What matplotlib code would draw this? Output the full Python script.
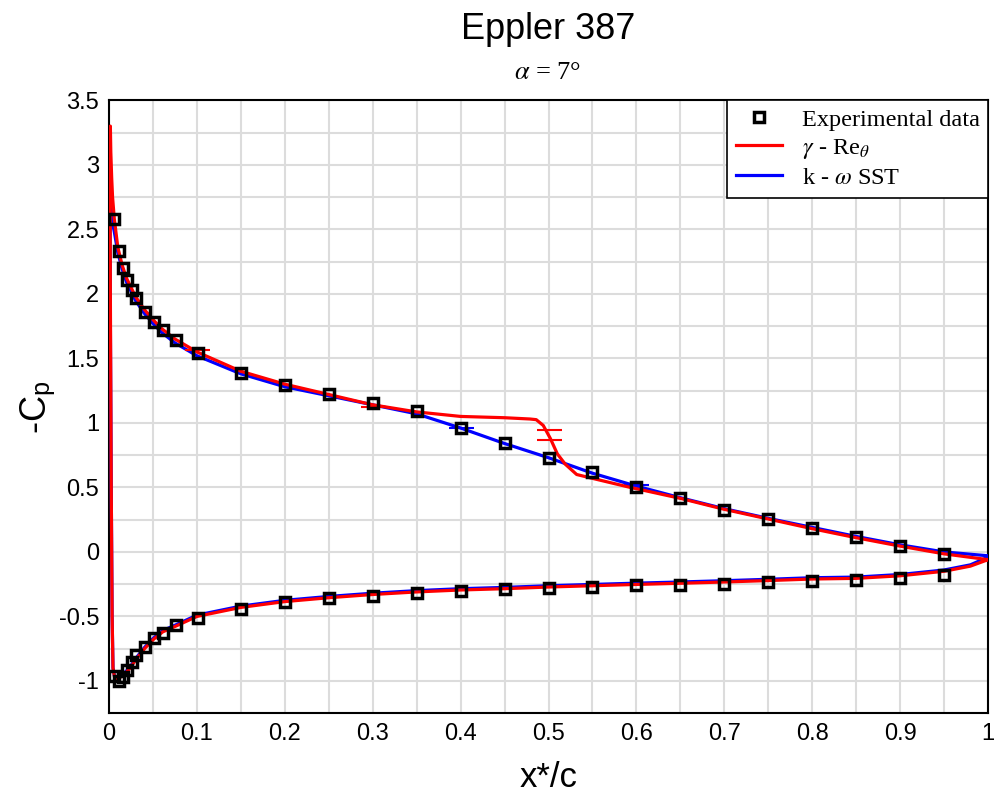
import numpy as np
import matplotlib
matplotlib.use("Agg")
import matplotlib.pyplot as plt

plt.rcParams['font.family'] = ['Liberation Sans', 'DejaVu Sans']
plt.rcParams['mathtext.fontset'] = 'stix'

# ---------------- data ----------------
# experimental points, upper surface
exp_up_x = [0.0057, 0.011, 0.016, 0.020, 0.026, 0.031, 0.041, 0.051, 0.061, 0.076, 0.101,
            0.15, 0.20, 0.25, 0.30, 0.35, 0.40, 0.45, 0.50, 0.55, 0.60, 0.65, 0.70, 0.75,
            0.80, 0.85, 0.90, 0.95]
exp_up_y = [2.58, 2.33, 2.20, 2.11, 2.03, 1.97, 1.86, 1.78, 1.72, 1.64, 1.54,
            1.39, 1.29, 1.22, 1.155, 1.09, 0.96, 0.845, 0.73, 0.62, 0.50, 0.42, 0.325, 0.255,
            0.185, 0.115, 0.047, -0.015]
# experimental points, lower surface
exp_lo_x = [0.0057, 0.011, 0.016, 0.020, 0.026, 0.031, 0.041, 0.051, 0.061, 0.076, 0.101,
            0.15, 0.20, 0.25, 0.30, 0.35, 0.40, 0.45, 0.50, 0.55, 0.60, 0.65, 0.70, 0.75,
            0.80, 0.85, 0.90, 0.95]
exp_lo_y = [-0.96, -1.0, -0.97, -0.915, -0.855, -0.80, -0.735, -0.67, -0.625, -0.57, -0.51,
            -0.44, -0.385, -0.355, -0.34, -0.32, -0.30, -0.29, -0.28, -0.27, -0.26, -0.255,
            -0.245, -0.235, -0.225, -0.22, -0.20, -0.18]

# gamma - Re_theta (red), one loop: lower surface TE -> LE -> upper surface TE
red_x = [1.0, 0.98, 0.95, 0.90, 0.85, 0.80, 0.75, 0.70, 0.65, 0.60, 0.55, 0.50, 0.45, 0.40,
         0.35, 0.30, 0.25, 0.20, 0.15, 0.10, 0.076, 0.061, 0.051, 0.041, 0.031, 0.024, 0.016,
         0.010, 0.0065, 0.0045, 0.0035, 0.0025, 0.0015, 0.0012, 0.0015,
         0.002, 0.003, 0.004, 0.006, 0.010, 0.015, 0.020, 0.030, 0.040, 0.050, 0.060, 0.075,
         0.10, 0.15, 0.20, 0.25, 0.30, 0.35, 0.40, 0.45, 0.479, 0.486, 0.494, 0.502, 0.51,
         0.519, 0.532, 0.55, 0.593, 0.65, 0.70, 0.75, 0.80, 0.85, 0.90, 0.95, 1.0]
red_y = [-0.06, -0.11, -0.15, -0.185, -0.205, -0.21, -0.222, -0.233, -0.243, -0.252, -0.262,
         -0.272, -0.285, -0.295, -0.31, -0.33, -0.355, -0.385, -0.43, -0.50, -0.575, -0.62,
         -0.675, -0.745, -0.83, -0.90, -0.96, -0.98, -0.98, -0.90, -0.50, 0.50, 2.0, 3.0, 3.30,
         3.10, 2.90, 2.75, 2.58, 2.36, 2.22, 2.12, 1.98, 1.88, 1.80, 1.73, 1.65,
         1.55, 1.40, 1.30, 1.22, 1.14, 1.085, 1.05, 1.04, 1.03, 1.025, 0.98, 0.88, 0.76,
         0.68, 0.60, 0.57, 0.50, 0.415, 0.33, 0.255, 0.18, 0.11, 0.045, -0.015, -0.06]

# k - omega SST (blue)
blue_x = [1.0, 0.98, 0.95, 0.90, 0.85, 0.80, 0.75, 0.70, 0.65, 0.60, 0.55, 0.50, 0.45, 0.40,
          0.35, 0.30, 0.25, 0.20, 0.15, 0.10, 0.076, 0.061, 0.051, 0.041, 0.031, 0.024, 0.016,
          0.010, 0.0065, 0.0045, 0.0035, 0.0025, 0.0015, 0.0012, 0.0015,
          0.002, 0.003, 0.004, 0.006, 0.010, 0.015, 0.020, 0.030, 0.040, 0.050, 0.060, 0.075,
          0.10, 0.15, 0.20, 0.25, 0.30, 0.35, 0.40, 0.45, 0.50, 0.55, 0.60, 0.65, 0.70, 0.75,
          0.80, 0.85, 0.90, 0.95, 1.0]
blue_y = [-0.04, -0.10, -0.14, -0.175, -0.195, -0.20, -0.212, -0.223, -0.233, -0.242, -0.252,
          -0.262, -0.275, -0.285, -0.30, -0.32, -0.345, -0.375, -0.42, -0.49, -0.565, -0.61,
          -0.665, -0.735, -0.82, -0.89, -0.95, -0.975, -0.975, -0.90, -0.50, 0.50, 1.80, 2.50, 2.75,
          2.70, 2.62, 2.55, 2.48, 2.32, 2.19, 2.09, 1.95, 1.85, 1.77, 1.70, 1.62,
          1.52, 1.38, 1.28, 1.21, 1.14, 1.07, 0.96, 0.84, 0.73, 0.61, 0.51, 0.42, 0.335, 0.26,
          0.19, 0.12, 0.055, 0.0, -0.03]

# small horizontal bars seen on the curves
red_bar_x = [0.10, 0.30, 0.50, 0.50]
red_bar_y = [1.565, 1.125, 0.945, 0.868]
blue_bar_x = [0.40, 0.60]
blue_bar_y = [0.96, 0.515]

# ---------------- plot ----------------
fig = plt.figure(figsize=(9.94, 7.96), dpi=100)
ax = fig.add_axes([0.1097, 0.104, 0.8843, 0.770])

ax.set_xticks(np.arange(0, 1.0001, 0.05), minor=True)
ax.set_yticks(np.arange(-1.25, 3.5001, 0.25), minor=True)
ax.grid(True, which='both', color='#dcdcdc', linewidth=1.5)
ax.set_axisbelow(True)

ax.plot(blue_x, blue_y, color='#0000ff', lw=2.3, label=r'k - $\omega$ SST', zorder=3)
ax.plot(red_x, red_y, color='#ff0000', lw=2.3, label=r'$\gamma$ - Re$_\theta$', zorder=4)
ax.plot(blue_bar_x, blue_bar_y, ls='none', marker='_', ms=18, mew=1.5, color='#0000ff', zorder=3)
ax.plot(red_bar_x, red_bar_y, ls='none', marker='_', ms=18, mew=1.5, color='#ff0000', zorder=4)
ax.plot(exp_up_x, exp_up_y, ls='none', marker='s', ms=7.5, mfc='none', mec='black', mew=2.5,
        label='Experimental data', zorder=5)
ax.plot(exp_lo_x, exp_lo_y, ls='none', marker='s', ms=7.5, mfc='none', mec='black', mew=2.5, zorder=5)

ax.set_xlim(0, 1)
ax.set_ylim(-1.25, 3.5)
ax.set_xticks(np.arange(0, 1.0001, 0.1))
ax.set_xticklabels(['0', '0.1', '0.2', '0.3', '0.4', '0.5', '0.6', '0.7', '0.8', '0.9', '1'])
ax.set_yticks(np.arange(-1, 3.5001, 0.5))
ax.set_yticklabels(['-1', '-0.5', '0', '0.5', '1', '1.5', '2', '2.5', '3', '3.5'])
ax.tick_params(which='both', length=0, labelsize=17, pad=7)
for s in ax.spines.values():
    s.set_linewidth(1.5)
    s.set_color('black')

ax.set_xlabel('x*/c', fontsize=25)
ax.xaxis.set_label_coords(0.5, -0.078)
ax.set_ylabel(r'-C$_\mathregular{p}$', fontsize=26)
ax.yaxis.set_label_coords(-0.058, 0.5)

fig.text(0.5513, 0.963, 'Eppler 387', ha='center', va='center', fontsize=26)
fig.text(0.5513, 0.908, r'$\alpha$ = 7°', ha='center', va='center', fontsize=19,
         family='Liberation Serif')

h, l = ax.get_legend_handles_labels()
order = [2, 1, 0]
leg = ax.legend([h[i] for i in order], [l[i] for i in order], loc='upper right',
                prop={'family': 'Liberation Serif', 'size': 17.5}, frameon=True, fancybox=False,
                edgecolor='black', framealpha=1, borderaxespad=0, handlelength=1.9,
                handletextpad=0.8, labelspacing=0.25, borderpad=0.35)
leg.get_frame().set_linewidth(1.2)

fig.savefig('out.png', dpi=100)
